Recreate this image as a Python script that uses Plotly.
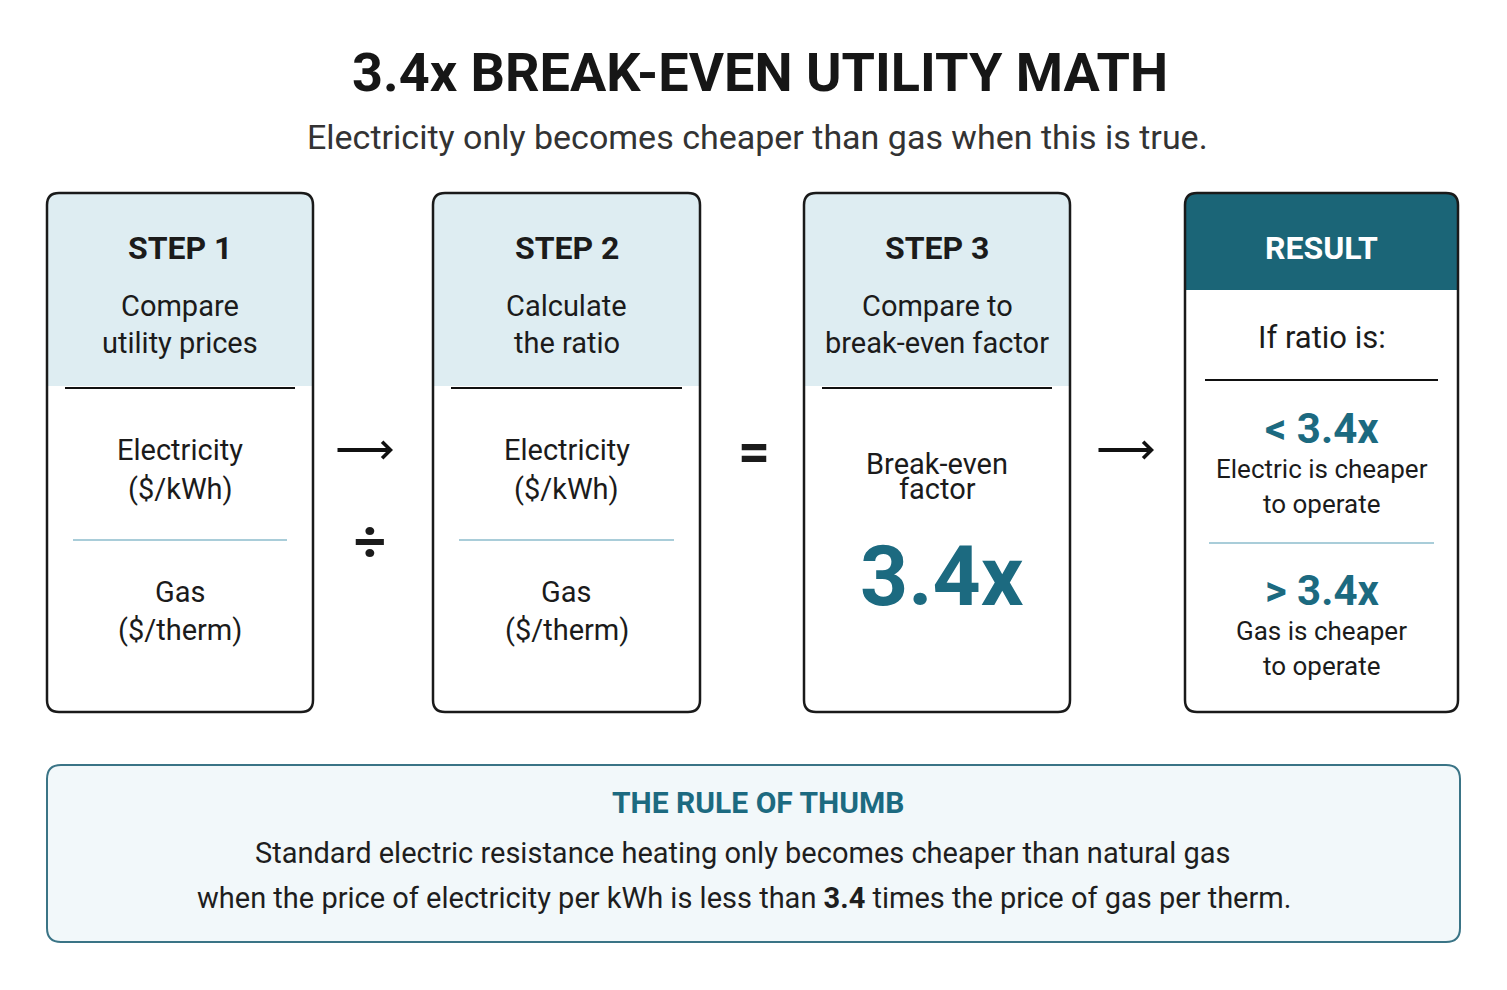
import plotly.graph_objects as go

W, H = 1507, 990
FONT = "Roboto"
TEAL = "#1c6a80"
DARK = "#1b1b1b"

title = "3.4x BREAK-EVEN UTILITY MATH"
subtitle = "Electricity only becomes cheaper than gas when this is true."
step_titles = ["STEP 1", "STEP 2", "STEP 3", "RESULT"]
step_subs = ["Compare<br>utility prices", "Calculate<br>the ratio", "Compare to<br>break-even factor", "If ratio is:"]
card_x = [(47, 313), (433, 700), (804, 1070), (1185, 1458)]
top_items = [("Electricity", "($/kWh)"), ("Electricity", "($/kWh)"), ("Break-even", "factor")]
bottom_items = [("Gas", "($/therm)"), ("Gas", "($/therm)")]
factor = "3.4x"
results = [("< 3.4x", "Electric is cheaper", "to operate"), ("> 3.4x", "Gas is cheaper", "to operate")]
operators = [("÷", 370, 542), ("=", 754, 452)]
arrows = [(336, 393, 450), (1097, 1154, 450)]
rule_title = "THE RULE OF THUMB"
rule_lines = ["Standard electric resistance heating only becomes cheaper than natural gas",
              "when the price of electricity per kWh is less than <b>3.4</b> times the price of gas per therm."]

OFF = 8  # browser body margin


def rrect(x0, y0, x1, y1, r, top_only=False):
    if top_only:
        return (f"M{x0},{y1} L{x0},{y0+r} Q{x0},{y0} {x0+r},{y0} L{x1-r},{y0} "
                f"Q{x1},{y0} {x1},{y0+r} L{x1},{y1} Z")
    return (f"M{x0+r},{y0} L{x1-r},{y0} Q{x1},{y0} {x1},{y0+r} L{x1},{y1-r} Q{x1},{y1} {x1-r},{y1} "
            f"L{x0+r},{y1} Q{x0},{y1} {x0},{y1-r} L{x0},{y0+r} Q{x0},{y0} {x0+r},{y0} Z")


fig = go.Figure()
shapes, ann = [], []


def text(x, y, t, size, color=DARK, bold=False):
    ann.append(dict(x=x, y=y, text=f"<b>{t}</b>" if bold else t, showarrow=False,
                    font=dict(family=FONT, size=size, color=color), xanchor="center", yanchor="middle"))


text(760, 72, title, 54, "#161616", True)
text(757, 137, subtitle, 34, "#333333")

for i, (x0, x1) in enumerate(card_x):
    cx = (x0 + x1) / 2
    y0, y1 = 193, 712
    shapes.append(dict(type="path", path=rrect(x0, y0, x1, y1, 12), fillcolor="white", line_width=0, layer="below"))
    if i < 3:
        shapes.append(dict(type="path", path=rrect(x0, y0, x1, 386, 12, True), fillcolor="#deedf2", line_width=0, layer="below"))
        shapes.append(dict(type="line", x0=x0 + 18, x1=x1 - 18, y0=388, y1=388, line=dict(color="#111", width=2)))
        text(cx, 248, step_titles[i], 32, DARK, True)
        a, b = step_subs[i].split("<br>")
        text(cx, 306, a, 29)
        text(cx, 343, b, 29)
        dy = 14 if i == 2 else 0
        text(cx, 450 + dy, top_items[i][0], 29)
        text(cx, 489, top_items[i][1], 29)
        if i < 2:
            shapes.append(dict(type="line", x0=x0 + 26, x1=x1 - 26, y0=540, y1=540, line=dict(color="#a9cdd9", width=2)))
            text(cx, 592, bottom_items[i][0], 29)
            text(cx, 630, bottom_items[i][1], 29)
        else:
            text(cx + 5, 576, f"<b>{factor}</b>", 84, TEAL)
    else:
        shapes.append(dict(type="path", path=rrect(x0, y0, x1, 290, 12, True), fillcolor="#1b6577", line_width=0, layer="below"))
        shapes.append(dict(type="line", x0=x0 + 20, x1=x1 - 20, y0=380, y1=380, line=dict(color="#111", width=2)))
        shapes.append(dict(type="line", x0=x0 + 24, x1=x1 - 24, y0=543, y1=543, line=dict(color="#a9cdd9", width=2)))
        text(cx, 248, step_titles[i], 32, "white", True)
        text(cx, 337, step_subs[i], 31)
        for (big, s1, s2), yb in zip(results, (428, 590)):
            text(cx, yb, big, 42, TEAL, True)
            text(cx, yb + 41, s1, 26)
            text(cx, yb + 76, s2, 26)
    shapes.append(dict(type="path", path=rrect(x0, y0, x1, y1, 12), line=dict(color="#1a1a1a", width=2.5)))

for sym, x, y in operators:
    text(x, y, f"<b>{sym}</b>", 56, DARK)

for xa, xb, y in arrows:
    ann.append(dict(x=xb, y=y, ax=xa, ay=y, xref="x", yref="y", axref="x", ayref="y", text="",
                    showarrow=True, arrowhead=4, arrowsize=0.8, arrowwidth=4, arrowcolor="#111"))

shapes.append(dict(type="path", path=rrect(47, 765, 1460, 942, 14), fillcolor="#f2f8fa",
                   line=dict(color="#3a7486", width=2), layer="below"))
text(758, 802, rule_title, 30, TEAL, True)
text(742, 853, rule_lines[0], 29, "#1e1e1e")
text(744, 898, rule_lines[1], 29, "#1e1e1e")

fig.update_layout(
    width=W, height=H, margin=dict(l=0, r=0, t=0, b=0),
    paper_bgcolor="white", plot_bgcolor="white",
    xaxis=dict(range=[OFF, W + OFF], visible=False, fixedrange=True),
    yaxis=dict(range=[H + OFF, OFF], visible=False, fixedrange=True),
    shapes=shapes, annotations=ann, showlegend=False,
)
fig.write_html("out.html")
